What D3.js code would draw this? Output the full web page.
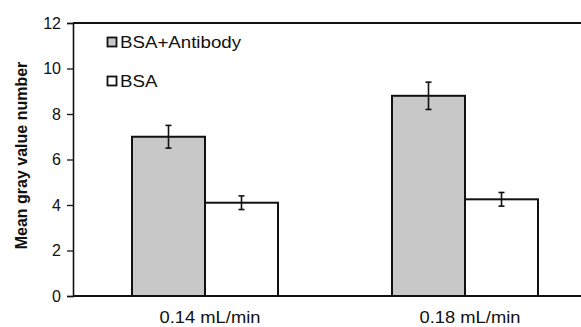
<!DOCTYPE html>
<html>
<head>
<meta charset="utf-8">
<script src="https://cdn.jsdelivr.net/npm/d3@7"></script>
<style>
  body { margin: 0; background: #fff; }
  svg text { font-family: "Liberation Sans", Arial, sans-serif; fill: #111; }
</style>
</head>
<body>
<svg id="chart" width="581" height="327"></svg>
<script>
var categories = ['0.14 mL/min', '0.18 mL/min'];
var series = ['BSA+Antibody', 'BSA'];
var antibody_vals = [7.0, 8.8];
var antibody_err = [0.5, 0.6];
var bsa_vals = [4.1, 4.25];
var bsa_err = [0.3, 0.3];
var y_ticks = [0, 2, 4, 6, 8, 10, 12];
var fills = ['#c8c8c8', '#ffffff'];

var margin = {top: 23, left: 73, bottom: 31, right: -12};
var width = 581 - margin.left - margin.right;
var height = 327 - margin.top - margin.bottom;

var svg = d3.select('#chart');
var chart = svg.append('g')
	.attr('transform', 'translate(' + margin.left + ',' + margin.top + ')');

var x_conv = d3.scaleBand().domain(categories).range([2, width + 2]);
var x_sub = d3.scaleBand().domain(series).range([0, 146]);
var y_conv = d3.scaleLinear().domain([0, 12]).range([height, 0]);

// tabella per le barre
var rows = [];
categories.forEach(function(c, i) {
	rows.push({cat: c, s: series[0], v: antibody_vals[i], e: antibody_err[i], fill: fills[0]});
	rows.push({cat: c, s: series[1], v: bsa_vals[i], e: bsa_err[i], fill: fills[1]});
});

function bar_x(d) {
	return x_conv(d.cat) + x_conv.bandwidth() / 2 - 73 + x_sub(d.s);
}

chart.selectAll('rect.bar')
	.data(rows).enter()
	.append('rect')
	.attr('class', 'bar')
	.attr('x', bar_x)
	.attr('y', function(d) { return y_conv(d.v); })
	.attr('width', x_sub.bandwidth())
	.attr('height', function(d) { return height - y_conv(d.v); })
	.attr('fill', function(d) { return d.fill; })
	.attr('stroke', '#111')
	.attr('stroke-width', 2);

// barre di errore
var err = chart.selectAll('g.err')
	.data(rows).enter()
	.append('g')
	.attr('class', 'err')
	.attr('transform', function(d) {
		return 'translate(' + (bar_x(d) + x_sub.bandwidth() / 2) + ',0)';
	});
err.append('line')
	.attr('y1', function(d) { return y_conv(d.v + d.e); })
	.attr('y2', function(d) { return y_conv(d.v - d.e); })
	.attr('stroke', '#111').attr('stroke-width', 1.6);
err.append('line')
	.attr('x1', -3).attr('x2', 3)
	.attr('y1', function(d) { return y_conv(d.v + d.e); })
	.attr('y2', function(d) { return y_conv(d.v + d.e); })
	.attr('stroke', '#111').attr('stroke-width', 1.6);
err.append('line')
	.attr('x1', -3).attr('x2', 3)
	.attr('y1', function(d) { return y_conv(d.v - d.e); })
	.attr('y2', function(d) { return y_conv(d.v - d.e); })
	.attr('stroke', '#111').attr('stroke-width', 1.6);

// asse y
var y_axis = chart.append('g')
	.call(d3.axisLeft(y_conv).tickValues(y_ticks).tickSize(6).tickPadding(6));
y_axis.select('.domain').attr('stroke', '#111').attr('stroke-width', 1.6);
y_axis.selectAll('.tick line').attr('stroke', '#111').attr('stroke-width', 1.3);
y_axis.selectAll('.tick text')
	.attr('font-size', 16)
	.style('font-family', '"Liberation Sans", Arial, sans-serif')
	.attr('fill', '#111');

// linea in alto e linea base
chart.append('line')
	.attr('x1', 0).attr('x2', 581 - margin.left)
	.attr('y1', y_conv(12)).attr('y2', y_conv(12))
	.attr('stroke', '#111').attr('stroke-width', 1.8);
chart.append('line')
	.attr('x1', 0).attr('x2', 581 - margin.left)
	.attr('y1', y_conv(0)).attr('y2', y_conv(0))
	.attr('stroke', '#111').attr('stroke-width', 1.8);

// etichette categorie
chart.selectAll('text.cat')
	.data(categories).enter()
	.append('text')
	.attr('class', 'cat')
	.attr('transform', function(d) {
		return 'translate(' + (x_conv(d) + x_conv.bandwidth() / 2 + 5) + ',' + (height + 27) + ') scale(1.08,1)';
	})
	.attr('text-anchor', 'middle')
	.attr('font-size', 17)
	.text(function(d) { return d; });

// titolo asse y
svg.append('text')
	.attr('transform', 'translate(27,' + (margin.top + height / 2 - 4) + ') rotate(-90)')
	.attr('text-anchor', 'middle')
	.attr('font-size', 16)
	.attr('font-weight', 'bold')
	.text('Mean gray value number');

// legenda
var legend = svg.append('g').attr('transform', 'translate(107,37)');
series.forEach(function(s, i) {
	var g = legend.append('g').attr('transform', 'translate(0,' + (i * 39) + ')');
	g.append('rect')
		.attr('x', 0.5).attr('y', 0.5)
		.attr('width', 9).attr('height', 9)
		.attr('fill', fills[i])
		.attr('stroke', '#111').attr('stroke-width', 1.8);
	g.append('text')
		.attr('transform', 'translate(13,11) scale(1.1,1)')
		.attr('font-size', 17)
		.text(s);
});
</script>
</body>
</html>
